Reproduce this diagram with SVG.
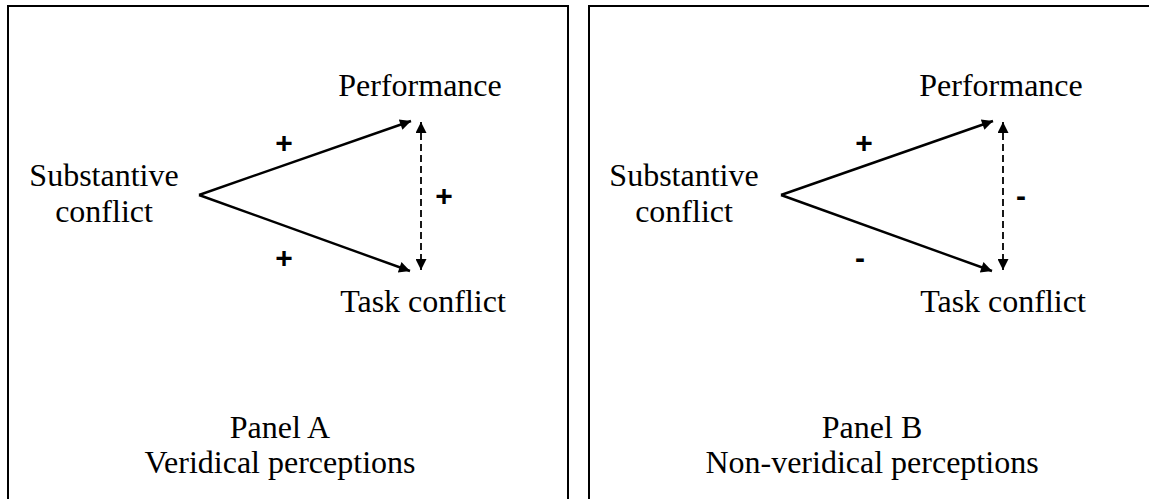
<svg xmlns="http://www.w3.org/2000/svg" width="1149" height="499" viewBox="0 0 1149 499">
<style>
.box{fill:none;stroke:#000;stroke-width:2}
.t{font-family:"Liberation Serif","Times New Roman",serif;font-size:32px;fill:#000;text-anchor:middle}
.s{font-family:"Liberation Sans",Arial,sans-serif;font-size:30px;font-weight:bold;fill:#000;text-anchor:middle}
.ln{stroke:#000;stroke-width:2.4;fill:none}
.dash{stroke:#000;stroke-width:1.8;fill:none;stroke-dasharray:7 4}
</style>
<defs>
<marker id="ah" viewBox="0 0 10 10" refX="10" refY="5" markerWidth="15" markerHeight="11" markerUnits="userSpaceOnUse" orient="auto">
<path d="M0,0 L10,5 L0,10 z" fill="#000"/>
</marker>
<marker id="ahs" viewBox="0 0 10 10" refX="10" refY="5" markerWidth="14" markerHeight="11" markerUnits="userSpaceOnUse" orient="auto-start-reverse">
<path d="M0,0 L10,5 L0,10 z" fill="#000"/>
</marker>
</defs>
<rect class="box" x="8" y="6" width="560" height="500"/>
<rect class="box" x="589" y="6" width="562" height="500"/>
<g id="panelA">
<g id="a-substantive"><text class="t" x="104" y="186">Substantive</text><text class="t" x="104" y="222">conflict</text></g>
<g id="a-performance"><text class="t" x="420" y="96">Performance</text></g>
<g id="a-task"><text class="t" x="423" y="312">Task conflict</text></g>
<g id="a-caption"><text class="t" x="280" y="438">Panel A</text><text class="t" x="280" y="473">Veridical perceptions</text></g>
</g>
<g id="panelB">
<g id="b-substantive"><text class="t" x="684" y="186">Substantive</text><text class="t" x="684" y="222">conflict</text></g>
<g id="b-performance"><text class="t" x="1001" y="96">Performance</text></g>
<g id="b-task"><text class="t" x="1003" y="312">Task conflict</text></g>
<g id="b-caption"><text class="t" x="872" y="438">Panel B</text><text class="t" x="872" y="473">Non-veridical perceptions</text></g>
</g>
<g id="connectors">
<path class="ln" d="M199,195 L411,121" marker-end="url(#ah)"/>
<path class="ln" d="M199,195 L410,271" marker-end="url(#ah)"/>
<path class="dash" d="M421,122 L421,270" marker-start="url(#ahs)" marker-end="url(#ahs)"/>
<path class="ln" d="M781,195 L993,121" marker-end="url(#ah)"/>
<path class="ln" d="M781,195 L992,271" marker-end="url(#ah)"/>
<path class="dash" d="M1003,122 L1003,270" marker-start="url(#ahs)" marker-end="url(#ahs)"/>
</g>
<g id="labels">
<text class="s" x="284" y="153">+</text>
<text class="s" x="284" y="268">+</text>
<text class="s" x="444" y="206">+</text>
<text class="s" x="864" y="153">+</text>
<text class="s" x="860" y="268">-</text>
<text class="s" x="1021" y="206">-</text>
</g>
</svg>
